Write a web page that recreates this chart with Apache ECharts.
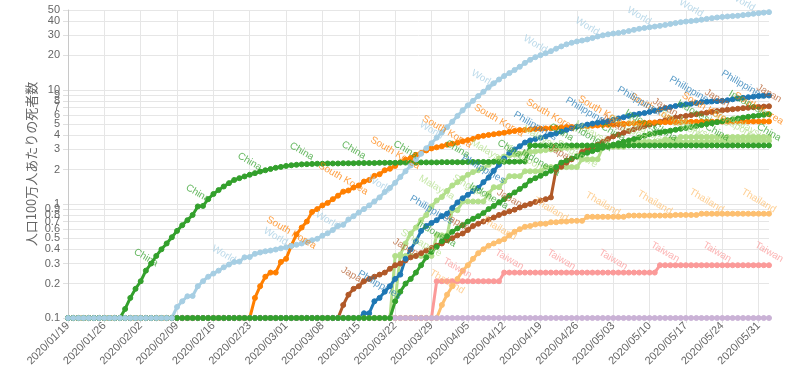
<!DOCTYPE html>
<html><head><meta charset="utf-8">
<script src="https://cdn.jsdelivr.net/npm/echarts@6/dist/echarts.min.js"></script>
<style>html,body{margin:0;padding:0;background:#fff}#c{width:790px;height:370px}</style>
</head><body><div id="c"></div>
<script>
const dates = [
"2020/01/19","2020/01/20","2020/01/21","2020/01/22","2020/01/23","2020/01/24","2020/01/25","2020/01/26","2020/01/27","2020/01/28","2020/01/29","2020/01/30","2020/01/31",
"2020/02/01","2020/02/02","2020/02/03","2020/02/04","2020/02/05","2020/02/06","2020/02/07","2020/02/08","2020/02/09","2020/02/10","2020/02/11","2020/02/12","2020/02/13","2020/02/14","2020/02/15","2020/02/16","2020/02/17","2020/02/18","2020/02/19","2020/02/20","2020/02/21","2020/02/22","2020/02/23","2020/02/24","2020/02/25","2020/02/26","2020/02/27","2020/02/28","2020/02/29",
"2020/03/01","2020/03/02","2020/03/03","2020/03/04","2020/03/05","2020/03/06","2020/03/07","2020/03/08","2020/03/09","2020/03/10","2020/03/11","2020/03/12","2020/03/13","2020/03/14","2020/03/15","2020/03/16","2020/03/17","2020/03/18","2020/03/19","2020/03/20","2020/03/21","2020/03/22","2020/03/23","2020/03/24","2020/03/25","2020/03/26","2020/03/27","2020/03/28","2020/03/29","2020/03/30","2020/03/31",
"2020/04/01","2020/04/02","2020/04/03","2020/04/04","2020/04/05","2020/04/06","2020/04/07","2020/04/08","2020/04/09","2020/04/10","2020/04/11","2020/04/12","2020/04/13","2020/04/14","2020/04/15","2020/04/16","2020/04/17","2020/04/18","2020/04/19","2020/04/20","2020/04/21","2020/04/22","2020/04/23","2020/04/24","2020/04/25","2020/04/26","2020/04/27","2020/04/28","2020/04/29","2020/04/30",
"2020/05/01","2020/05/02","2020/05/03","2020/05/04","2020/05/05","2020/05/06","2020/05/07","2020/05/08","2020/05/09","2020/05/10","2020/05/11","2020/05/12","2020/05/13","2020/05/14","2020/05/15","2020/05/16","2020/05/17","2020/05/18","2020/05/19","2020/05/20","2020/05/21","2020/05/22","2020/05/23","2020/05/24","2020/05/25","2020/05/26","2020/05/27","2020/05/28","2020/05/29","2020/05/30","2020/05/31",
"2020/06/01","2020/06/02"];

const yTicks = [0.1,0.2,0.3,0.4,0.5,0.6,0.7,0.8,0.9,1,2,3,4,5,6,7,8,9,10,20,30,40,50];

const world = [
0.1,0.1,0.1,0.1,0.1,0.1,0.1,0.1,0.1,0.1,
0.1,0.1,0.1,0.1,0.1,0.1,0.1,0.1,0.1,0.1,
0.1,0.125,0.14,0.155,0.156,0.19,0.21,0.23,0.245,0.26,
0.278,0.294,0.31,0.312,0.34,0.342,0.365,0.375,0.384,0.39,
0.398,0.408,0.416,0.428,0.438,0.45,0.464,0.48,0.494,0.527,
0.553,0.59,0.64,0.655,0.73,0.78,0.84,0.9,0.97,1.05,
1.14,1.27,1.38,1.53,1.72,1.93,2.17,2.45,2.75,3.07,
3.4,3.8,4.23,4.7,5.25,5.9,6.6,7.3,8.0,8.8,
9.6,10.5,11.4,12.3,13.2,14.0,14.9,15.9,17.2,18.3,
19.3,20.1,20.9,21.8,22.9,24.0,25.0,25.8,26.5,27.0,
27.6,28.4,29.3,30.0,30.6,31.1,31.5,32.0,32.7,33.5,
34.2,34.8,35.3,35.8,36.3,37.0,37.7,38.4,39.1,39.6,
40.0,40.5,41.1,41.8,42.4,43.0,43.5,43.9,44.2,44.5,
45.1,45.7,46.3,46.9,47.4,47.9];

const china = [
0.1,0.1,0.1,0.1,0.1,0.1,0.1,0.1,0.1,0.1,
0.1,0.12,0.15,0.18,0.21,0.26,0.30,0.35,0.40,0.45,
0.51,0.58,0.65,0.72,0.80,0.95,0.96,1.10,1.22,1.32,
1.42,1.52,1.62,1.68,1.74,1.80,1.86,1.92,1.97,2.02,
2.07,2.11,2.15,2.18,2.20,2.22,2.23,2.24,2.25,2.25,
2.26,2.26,2.26,2.27,2.27,2.27,2.28,2.28,2.28,2.28,
2.29,2.29,2.29,2.29,2.30,2.30,2.30,2.30,2.31,2.31,
2.31,2.31,2.32,2.32,2.32,2.32,2.32,2.33,2.33,2.33,
2.33,2.33,2.34,2.34,2.34,2.34,2.34,2.35,2.35,3.25,
3.25,3.25,3.25,3.25,3.25,3.25,3.25,3.25,3.25,3.25,
3.25,3.25,3.25,3.25,3.25,3.25,3.25,3.25,3.25,3.25,
3.25,3.25,3.25,3.25,3.25,3.25,3.25,3.25,3.25,3.25,
3.25,3.25,3.25,3.25,3.25,3.25,3.25,3.25,3.25,3.25,
3.25,3.25,3.25,3.25,3.25,3.25];

const southKorea = [
0.1,0.1,0.1,0.1,0.1,0.1,0.1,0.1,0.1,0.1,
0.1,0.1,0.1,0.1,0.1,0.1,0.1,0.1,0.1,0.1,
0.1,0.1,0.1,0.1,0.1,0.1,0.1,0.1,0.1,0.1,
0.1,0.1,0.1,0.1,0.1,0.1,0.15,0.19,0.23,0.25,
0.25,0.31,0.33,0.43,0.54,0.62,0.70,0.85,0.90,0.97,
1.02,1.10,1.18,1.28,1.31,1.39,1.45,1.57,1.62,1.76,
1.82,1.97,2.03,2.15,2.32,2.44,2.53,2.69,2.79,2.94,
3.06,3.13,3.2,3.3,3.37,3.44,3.54,3.62,3.71,3.87,
3.95,4.02,4.08,4.14,4.2,4.29,4.35,4.43,4.45,4.49,
4.53,4.56,4.58,4.6,4.64,4.68,4.7,4.72,4.76,4.78,
4.8,4.84,4.87,4.91,4.93,4.95,4.99,5.03,5.07,5.09,
5.11,5.13,5.15,5.17,5.17,5.2,5.2,5.22,5.22,5.24,
5.24,5.24,5.26,5.26,5.26,5.26,5.26,5.28,5.28,5.28,
5.28,5.28,5.28,5.28,5.28,5.28];

const japan = [
0.1,0.1,0.1,0.1,0.1,0.1,0.1,0.1,0.1,0.1,
0.1,0.1,0.1,0.1,0.1,0.1,0.1,0.1,0.1,0.1,
0.1,0.1,0.1,0.1,0.1,0.1,0.1,0.1,0.1,0.1,
0.1,0.1,0.1,0.1,0.1,0.1,0.1,0.1,0.1,0.1,
0.1,0.1,0.1,0.1,0.1,0.1,0.1,0.1,0.1,0.1,
0.1,0.1,0.1,0.13,0.16,0.18,0.19,0.21,0.22,0.23,
0.24,0.25,0.27,0.29,0.30,0.32,0.34,0.35,0.37,0.39,
0.41,0.43,0.45,0.48,0.50,0.53,0.55,0.59,0.64,0.67,
0.70,0.73,0.76,0.80,0.83,0.86,0.89,0.93,0.97,1.0,
1.04,1.07,1.10,1.14,2.0,2.12,2.3,2.46,2.6,2.85,
3.0,3.15,3.3,3.5,3.7,3.9,4.05,4.2,4.35,4.5,
4.65,4.8,4.95,5.1,5.25,5.4,5.55,5.7,5.8,5.9,
6.0,6.1,6.2,6.3,6.4,6.5,6.6,6.68,6.75,6.82,
6.9,6.96,7.02,7.07,7.12,7.16];

const philippines = [
0.1,0.1,0.1,0.1,0.1,0.1,0.1,0.1,0.1,0.1,
0.1,0.1,0.1,0.1,0.1,0.1,0.1,0.1,0.1,0.1,
0.1,0.1,0.1,0.1,0.1,0.1,0.1,0.1,0.1,0.1,
0.1,0.1,0.1,0.1,0.1,0.1,0.1,0.1,0.1,0.1,
0.1,0.1,0.1,0.1,0.1,0.1,0.1,0.1,0.1,0.1,
0.1,0.1,0.1,0.1,0.1,0.1,0.1,0.11,0.11,0.14,
0.15,0.17,0.19,0.22,0.24,0.33,0.40,0.47,0.58,0.64,
0.68,0.72,0.78,0.82,0.92,1.03,1.12,1.2,1.3,1.38,
1.55,1.7,1.95,2.2,2.5,2.8,3.0,3.2,3.45,3.6,
3.7,3.8,3.9,4.05,4.15,4.3,4.45,4.6,4.75,4.85,
4.95,5.05,5.15,5.2,5.3,5.45,5.6,5.75,5.9,6.05,
6.15,6.25,6.4,6.55,6.7,6.9,7.05,7.2,7.35,7.45,
7.55,7.65,7.8,7.85,7.9,7.95,8.0,8.1,8.25,8.4,
8.5,8.6,8.7,8.8,8.85,8.9];

const taiwan = [
0.1,0.1,0.1,0.1,0.1,0.1,0.1,0.1,0.1,0.1,
0.1,0.1,0.1,0.1,0.1,0.1,0.1,0.1,0.1,0.1,
0.1,0.1,0.1,0.1,0.1,0.1,0.1,0.1,0.1,0.1,
0.1,0.1,0.1,0.1,0.1,0.1,0.1,0.1,0.1,0.1,
0.1,0.1,0.1,0.1,0.1,0.1,0.1,0.1,0.1,0.1,
0.1,0.1,0.1,0.1,0.1,0.1,0.1,0.1,0.1,0.1,
0.1,0.1,0.1,0.1,0.1,0.1,0.1,0.1,0.1,0.1,
0.1,0.21,0.21,0.21,0.21,0.21,0.21,0.21,0.21,0.21,
0.21,0.21,0.21,0.21,0.25,0.25,0.25,0.25,0.25,0.25,
0.25,0.25,0.25,0.25,0.25,0.25,0.25,0.25,0.25,0.25,
0.25,0.25,0.25,0.25,0.25,0.25,0.25,0.25,0.25,0.25,
0.25,0.25,0.25,0.25,0.29,0.29,0.29,0.29,0.29,0.29,
0.29,0.29,0.29,0.29,0.29,0.29,0.29,0.29,0.29,0.29,
0.29,0.29,0.29,0.29,0.29,0.29];

const thailand = [
0.1,0.1,0.1,0.1,0.1,0.1,0.1,0.1,0.1,0.1,
0.1,0.1,0.1,0.1,0.1,0.1,0.1,0.1,0.1,0.1,
0.1,0.1,0.1,0.1,0.1,0.1,0.1,0.1,0.1,0.1,
0.1,0.1,0.1,0.1,0.1,0.1,0.1,0.1,0.1,0.1,
0.1,0.1,0.1,0.1,0.1,0.1,0.1,0.1,0.1,0.1,
0.1,0.1,0.1,0.1,0.1,0.1,0.1,0.1,0.1,0.1,
0.1,0.1,0.1,0.1,0.1,0.1,0.1,0.1,0.1,0.1,
0.1,0.1,0.13,0.16,0.19,0.22,0.26,0.29,0.33,0.37,
0.40,0.43,0.45,0.47,0.49,0.53,0.57,0.60,0.63,0.64,
0.66,0.67,0.67,0.69,0.69,0.70,0.70,0.71,0.71,0.71,
0.77,0.77,0.77,0.77,0.77,0.77,0.77,0.77,0.79,0.79,
0.79,0.79,0.79,0.79,0.79,0.79,0.79,0.80,0.80,0.80,
0.80,0.80,0.82,0.82,0.82,0.82,0.82,0.82,0.82,0.82,
0.82,0.82,0.82,0.82,0.82,0.82];

const malaysia = [
0.1,0.1,0.1,0.1,0.1,0.1,0.1,0.1,0.1,0.1,
0.1,0.1,0.1,0.1,0.1,0.1,0.1,0.1,0.1,0.1,
0.1,0.1,0.1,0.1,0.1,0.1,0.1,0.1,0.1,0.1,
0.1,0.1,0.1,0.1,0.1,0.1,0.1,0.1,0.1,0.1,
0.1,0.1,0.1,0.1,0.1,0.1,0.1,0.1,0.1,0.1,
0.1,0.1,0.1,0.1,0.1,0.1,0.1,0.1,0.1,0.1,
0.1,0.1,0.1,0.14,0.36,0.45,0.55,0.62,0.72,0.8,
0.95,1.07,1.15,1.3,1.45,1.55,1.68,1.8,1.9,1.97,
2.05,2.2,2.35,2.5,2.6,2.65,2.7,2.75,2.8,2.85,
2.88,2.92,2.96,3.0,3.03,3.06,3.1,3.13,3.16,3.18,
3.2,3.22,3.24,3.26,3.28,3.3,3.32,3.34,3.35,3.37,
3.38,3.4,3.41,3.43,3.44,3.45,3.46,3.47,3.48,3.49,
3.5,3.5,3.51,3.52,3.52,3.53,3.53,3.54,3.54,3.55,
3.55,3.55,3.56,3.56,3.56,3.57];

const singapore = [
0.1,0.1,0.1,0.1,0.1,0.1,0.1,0.1,0.1,0.1,
0.1,0.1,0.1,0.1,0.1,0.1,0.1,0.1,0.1,0.1,
0.1,0.1,0.1,0.1,0.1,0.1,0.1,0.1,0.1,0.1,
0.1,0.1,0.1,0.1,0.1,0.1,0.1,0.1,0.1,0.1,
0.1,0.1,0.1,0.1,0.1,0.1,0.1,0.1,0.1,0.1,
0.1,0.1,0.1,0.1,0.1,0.1,0.1,0.1,0.1,0.1,
0.1,0.1,0.1,0.35,0.35,0.35,0.35,0.35,0.35,0.35,
0.35,0.53,0.53,0.53,0.88,0.88,1.05,1.05,1.05,1.05,
1.05,1.23,1.40,1.40,1.58,1.75,1.75,1.75,1.93,1.93,
1.93,1.93,2.10,2.10,2.10,2.10,2.10,2.10,2.10,2.46,
2.46,2.46,2.46,3.16,3.16,3.16,3.16,3.16,3.5,3.5,
3.5,3.5,3.5,3.5,3.5,3.68,3.68,3.68,3.86,3.86,
3.86,3.86,3.86,3.86,3.86,3.86,3.86,3.86,3.86,3.86,
3.86,3.86,3.86,3.86,3.86,3.86];

const indonesia = [
0.1,0.1,0.1,0.1,0.1,0.1,0.1,0.1,0.1,0.1,
0.1,0.1,0.1,0.1,0.1,0.1,0.1,0.1,0.1,0.1,
0.1,0.1,0.1,0.1,0.1,0.1,0.1,0.1,0.1,0.1,
0.1,0.1,0.1,0.1,0.1,0.1,0.1,0.1,0.1,0.1,
0.1,0.1,0.1,0.1,0.1,0.1,0.1,0.1,0.1,0.1,
0.1,0.1,0.1,0.1,0.1,0.1,0.1,0.1,0.1,0.1,
0.1,0.1,0.1,0.14,0.17,0.2,0.22,0.25,0.29,0.34,
0.38,0.42,0.47,0.52,0.57,0.61,0.65,0.7,0.74,0.78,
0.83,0.90,0.96,1.03,1.10,1.18,1.26,1.35,1.45,1.6,
1.68,1.76,1.85,1.95,2.1,2.3,2.4,2.5,2.6,2.7,
2.8,2.9,3.0,3.1,3.2,3.3,3.4,3.5,3.6,3.7,
3.82,3.95,4.08,4.15,4.22,4.3,4.38,4.46,4.55,4.63,
4.72,4.8,4.9,5.0,5.1,5.2,5.3,5.4,5.5,5.6,
5.7,5.8,5.88,5.95,6.03,6.1];

const vietnam = [
0.1,0.1,0.1,0.1,0.1,0.1,0.1,0.1,0.1,0.1,
0.1,0.1,0.1,0.1,0.1,0.1,0.1,0.1,0.1,0.1,
0.1,0.1,0.1,0.1,0.1,0.1,0.1,0.1,0.1,0.1,
0.1,0.1,0.1,0.1,0.1,0.1,0.1,0.1,0.1,0.1,
0.1,0.1,0.1,0.1,0.1,0.1,0.1,0.1,0.1,0.1,
0.1,0.1,0.1,0.1,0.1,0.1,0.1,0.1,0.1,0.1,
0.1,0.1,0.1,0.1,0.1,0.1,0.1,0.1,0.1,0.1,
0.1,0.1,0.1,0.1,0.1,0.1,0.1,0.1,0.1,0.1,
0.1,0.1,0.1,0.1,0.1,0.1,0.1,0.1,0.1,0.1,
0.1,0.1,0.1,0.1,0.1,0.1,0.1,0.1,0.1,0.1,
0.1,0.1,0.1,0.1,0.1,0.1,0.1,0.1,0.1,0.1,
0.1,0.1,0.1,0.1,0.1,0.1,0.1,0.1,0.1,0.1,
0.1,0.1,0.1,0.1,0.1,0.1,0.1,0.1,0.1,0.1,
0.1,0.1,0.1,0.1,0.1,0.1];

// drawing order: bottom -> top
const seriesDefs = [
  {name:'Taiwan', data:taiwan, color:'#fb9a99', phase:5},
  {name:'Thailand', data:thailand, color:'#fdbf6f', phase:3},
  {name:'Singapore', data:singapore, color:'#b2df8a', phase:8},
  {name:'Malaysia', data:malaysia, color:'#b2df8a', phase:1},
  {name:'Japan', data:japan, color:'#b15928', phase:5},
  {name:'South Korea', data:southKorea, color:'#ff7f00', phase:3},
  {name:'Philippines', data:philippines, color:'#1f78b4', phase:0},
  {name:'China', data:china, color:'#33a02c', phase:5},
  {name:'Vietnam', data:vietnam, color:'#cab2d6', phase:-1},
  {name:'Indonesia', data:indonesia, color:'#33a02c', phase:1},
  {name:'World', data:world, color:'#a6cee3', phase:0}
];

function hexA(h, a){
  const r=parseInt(h.slice(1,3),16),g=parseInt(h.slice(3,5),16),b=parseInt(h.slice(5,7),16);
  return 'rgba('+r+','+g+','+b+','+a+')';
}

const series = seriesDefs.map(function(s){
  return {
    name: s.name,
    type: 'line',
    symbol: 'circle',
    symbolSize: 5,
    showAllSymbol: true,
    lineStyle: {width: 3, color: s.color},
    itemStyle: {color: s.color, borderColor: s.color, borderWidth: 1},
    label: {
      show: false,
      formatter: s.name,
      position: 'top',
      distance: 10,
      rotate: -30,
      align: 'center',
      verticalAlign: 'middle',
      color: hexA(s.color, 0.75),
      fontSize: 10,
      fontFamily: 'Liberation Sans, Arial, sans-serif'
    },
    data: s.data.map(function(v, i){
      const show = s.phase >= 0 && i % 10 === s.phase && v > 0.1;
      return show ? {value: v, label: {show: true}} : v;
    })
  };
});

const chart = echarts.init(document.getElementById('c'), null, {renderer:'canvas'});
chart.setOption({
  animation: false,
  backgroundColor: '#fff',
  grid: {left: 68, right: 21, top: 10, bottom: 52, containLabel: false},
  xAxis: {
    type: 'category',
    data: dates,
    boundaryGap: false,
    axisLine: {show: true, lineStyle: {color: '#c8c8c8'}},
    axisTick: {show: true, interval: 6, length: 5, lineStyle: {color: '#e0e0e0'}},
    axisLabel: {interval: 6, rotate: 45, fontSize: 11, color: '#666', fontFamily: 'Liberation Sans, Arial, sans-serif', margin: 6},
    splitLine: {show: true, interval: 6, lineStyle: {color: '#e6e6e6', width: 1}}
  },
  yAxis: {
    type: 'log',
    logBase: 10,
    min: 0.1,
    max: 50,
    name: '人口100万人あたりの死者数',
    nameLocation: 'middle',
    nameGap: 30,
    nameRotate: 90,
    nameMoveOverlap: false,
    nameTextStyle: {fontSize: 13, color: '#666', fontFamily: 'Noto Sans CJK JP, sans-serif'},
    axisLine: {show: true, lineStyle: {color: '#c8c8c8'}},
    axisTick: {show: true, length: 5, customValues: yTicks, lineStyle: {color: '#e0e0e0'}},
    axisLabel: {
      customValues: yTicks,
      showMinLabel: true,
      showMaxLabel: true,
      hideOverlap: false,
      fontSize: 11,
      lineHeight: 9,
      color: '#666',
      margin: 8,
      fontFamily: 'Liberation Sans, Arial, sans-serif',
      formatter: function(v){ return String(parseFloat(Number(v).toPrecision(3))); }
    },
    splitLine: {show: true, lineStyle: {color: '#e6e6e6', width: 1}}
  },
  series: series
});
</script>
</body></html>
